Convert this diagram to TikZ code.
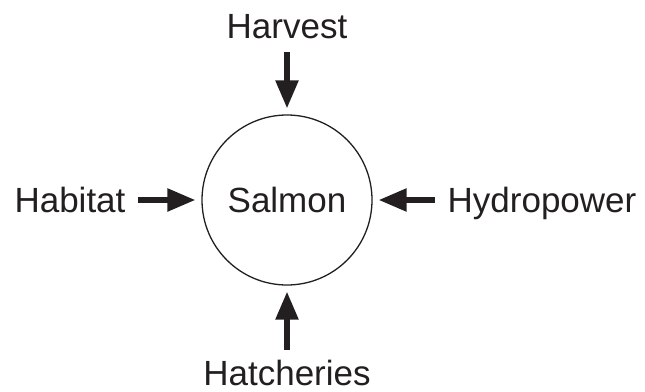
\documentclass[tikz,border=0pt]{standalone}
\usepackage{fontspec}
\setmainfont{Liberation Sans}
\usetikzlibrary{arrows.meta}
\definecolor{ink}{RGB}{35,31,32}
\begin{document}
\begin{tikzpicture}[x=1pt,y=-1pt,
  label/.style={font=\fontsize{35}{42}\selectfont, text=ink, inner sep=0pt, anchor=base},
  force/.style={draw=ink, line width=5.5pt, -{Triangle[length=28pt,width=22pt]}, shorten >=6pt}]
  \useasboundingbox (0,0) rectangle (645,391);
  \node[draw=ink, circle, line width=1.3pt, minimum size=170pt, inner sep=0pt] (salmon) at (287,200) {};
  \node[label] (salmontxt) at (287,212) {Salmon};
  \node[label] (harvest) at (287,38) {Harvest};
  \node[label] (habitat) at (70,212) {Habitat};
  \node[label] (hydro) at (542,212) {Hydropower};
  \node[label] (hatch) at (287,385) {Hatcheries};
  \coordinate (harvestend) at (287,52);
  \coordinate (habitatend) at (138,200);
  \coordinate (hydroend) at (435,200);
  \coordinate (hatchend) at (287,350);
  \draw[force] (harvestend) -- (salmon.north);
  \draw[force] (habitatend) -- (salmon.west);
  \draw[force] (hydroend) -- (salmon.east);
  \draw[force] (hatchend) -- (salmon.south);
\end{tikzpicture}
\end{document}
